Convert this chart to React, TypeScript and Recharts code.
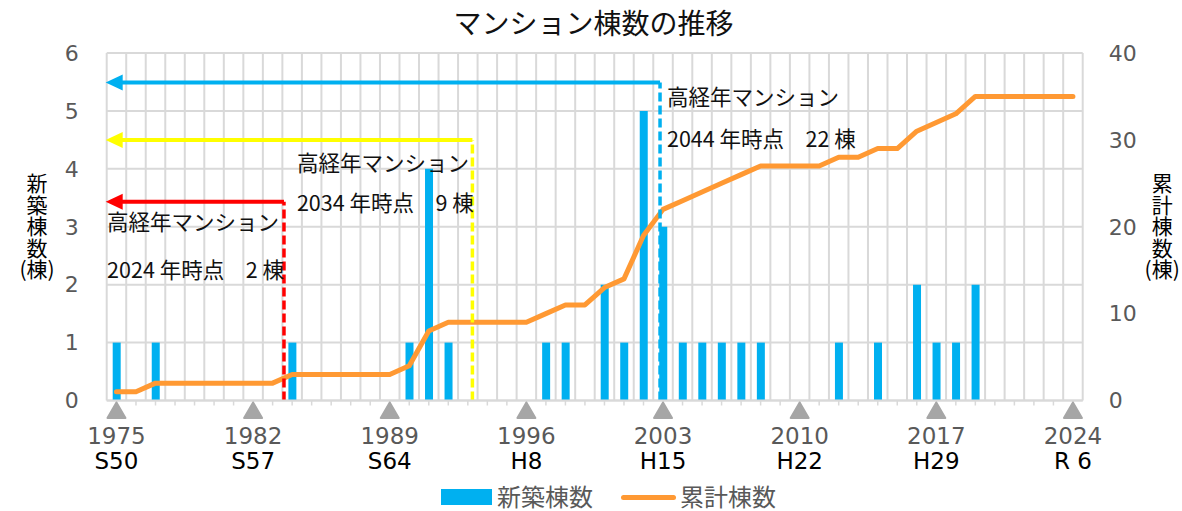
import React from "react";
import {
  ComposedChart,
  Bar,
  Line,
  XAxis,
  YAxis,
  CartesianGrid,
  ReferenceLine,
  ReferenceDot,
} from "recharts";

const YEARS = [
  "1975", "1976", "1977", "1978", "1979", "1980", "1981", "1982", "1983", "1984",
  "1985", "1986", "1987", "1988", "1989", "1990", "1991", "1992", "1993", "1994",
  "1995", "1996", "1997", "1998", "1999", "2000", "2001", "2002", "2003", "2004",
  "2005", "2006", "2007", "2008", "2009", "2010", "2011", "2012", "2013", "2014",
  "2015", "2016", "2017", "2018", "2019", "2020", "2021", "2022", "2023", "2024",
];

// 新築棟数
const NEW_BUILDINGS = [
  1, 0, 1, 0, 0, 0, 0, 0, 0, 1,
  0, 0, 0, 0, 0, 1, 4, 1, 0, 0,
  0, 0, 1, 1, 0, 2, 1, 5, 3, 1,
  1, 1, 1, 1, 0, 0, 0, 1, 0, 1,
  0, 2, 1, 1, 2, 0, 0, 0, 0, 0,
];

// 累計棟数
const CUMULATIVE = [
  1, 1, 2, 2, 2, 2, 2, 2, 2, 3,
  3, 3, 3, 3, 3, 4, 8, 9, 9, 9,
  9, 9, 10, 11, 11, 13, 14, 19, 22, 23,
  24, 25, 26, 27, 27, 27, 27, 28, 28, 29,
  29, 31, 32, 33, 35, 35, 35, 35, 35, 35,
];

const LABELED_YEARS = ["1975", "1982", "1989", "1996", "2003", "2010", "2017", "2024"];
const ERAS = ["S50", "S57", "S64", "H8", "H15", "H22", "H29", "R 6"];

const LEFT_TICKS = [0, 1, 2, 3, 4, 5, 6];
const RIGHT_TICKS = [0, 10, 20, 30, 40];

// 高経年マンション annotations (x on a 0..49 scale across the plot, y on the left axis)
const NOTE_COLORS = ["#ff0000", "#ffff00", "#00b0f0"];
const NOTE_YEARS = ["2024", "2034", "2044"];
const NOTE_COUNTS = ["2", "9", "22"];
const NOTE_CUTOFF_X = [8.9, 18.36, 27.78];
const NOTE_ARROW_Y = [3.43, 4.5, 5.49];
const NOTE_TEXT_X = [0.02, 9.55, 28.13];
const NOTE_LINE1_Y = [3.08, 4.1, 5.24];
const NOTE_LINE2_Y = [2.25, 3.41, 4.51];

const data = YEARS.map((year, i) => ({
  year,
  newCount: NEW_BUILDINGS[i],
  total: CUMULATIVE[i],
}));

const GRID = "#d9d9d9";
const AXIS_TEXT = "#595959";
const JP = "'Noto Sans CJK JP', 'Noto Sans', sans-serif";
const NUM = "'DejaVu Sans', Verdana, sans-serif";

function YearTick(props: any) {
  const { x, y, payload } = props;
  const i = LABELED_YEARS.indexOf(payload.value);
  if (i < 0) return <g />;
  return (
    <g>
      <polygon
        points={`${x},${y - 3} ${x - 9},${y + 12.5} ${x + 9},${y + 12.5}`}
        fill="#a6a6a6"
        stroke="#a6a6a6"
        strokeWidth={2}
        strokeLinejoin="round"
      />
      <text x={x} y={y + 38.5} textAnchor="middle" fill={AXIS_TEXT} fontSize={23} fontFamily={NUM}>
        {payload.value}
      </text>
      <text x={x} y={y + 63} textAnchor="middle" fill="#000" fontSize={23} fontFamily={NUM}>
        {ERAS[i]}
      </text>
    </g>
  );
}

const stackedTitle = (chars: string[], dx: number) => (props: any) => {
  const vb = props.viewBox;
  const mid = vb.y + vb.height / 2;
  return (
    <text fontSize={21} fontFamily={JP} fill="#000" textAnchor="middle">
      {chars.map((c, i) => (
        <tspan key={i} x={vb.x + dx} y={mid + (i - 2) * 21.5} dy="0.36em">
          {c}
        </tspan>
      ))}
    </text>
  );
};

const arrowShape = (color: string) => (props: any) => {
  const { x1, y1, x2 } = props;
  const left = Math.min(x1, x2);
  const right = Math.max(x1, x2);
  return (
    <g>
      <line x1={left + 12} y1={y1} x2={right} y2={y1} stroke={color} strokeWidth={4} />
      <polygon points={`${left - 1},${y1} ${left + 16},${y1 - 8} ${left + 16},${y1 + 8}`} fill={color} />
    </g>
  );
};

const noteText = (text: string) => (props: any) => (
  <text
    x={props.cx}
    y={props.cy}
    dy="0.36em"
    fontSize={21.5}
    fontFamily={JP}
    fill="#111"
  >
    {text}
  </text>
);

export default function App() {
  return (
    <div style={{ position: "absolute", left: 0, top: 0, width: 1182, height: 511, background: "#fff" }}>
      <div
        style={{
          position: "absolute",
          top: 8,
          left: 0,
          width: 1187,
          textAlign: "center",
          fontFamily: JP,
          fontSize: 28,
          lineHeight: "28px",
          color: "#111",
        }}
      >
        マンション棟数の推移
      </div>

      <ComposedChart
        width={1182}
        height={511}
        data={data}
        margin={{ top: 53, right: 0, bottom: 30.5, left: 0 }}
        barCategoryGap={0}
      >
        <CartesianGrid
          xAxisId="cat"
          yAxisId="left"
          stroke={GRID}
          strokeWidth={2}
          verticalCoordinatesGenerator={({ offset }: any) =>
            YEARS.concat([""]).map((_, i) => offset.left + (i * offset.width) / YEARS.length)
          }
        />
        <XAxis
          xAxisId="cat"
          dataKey="year"
          interval={0}
          height={80}
          tick={<YearTick />}
          tickSize={5}
          tickMargin={0}
          tickLine={{ stroke: GRID, strokeWidth: 1.5 }}
          axisLine={{ stroke: GRID, strokeWidth: 2 }}
        />
        <XAxis xAxisId="num" type="number" domain={[0, 49]} allowDataOverflow hide />
        <YAxis
          yAxisId="left"
          domain={[0, 6]}
          ticks={LEFT_TICKS}
          width={106.7}
          axisLine={false}
          tickLine={false}
          tickSize={6}
          tickMargin={22}
          tick={{ fill: AXIS_TEXT, fontSize: 22, fontFamily: NUM }}
          label={{ content: stackedTitle(["新", "築", "棟", "数", "(棟)"], 37) }}
        />
        <YAxis
          yAxisId="right"
          orientation="right"
          domain={[0, 40]}
          ticks={RIGHT_TICKS}
          width={99.3}
          axisLine={false}
          tickLine={false}
          tickSize={6}
          tickMargin={20}
          tick={{ fill: AXIS_TEXT, fontSize: 22, fontFamily: NUM }}
          label={{ content: stackedTitle(["累", "計", "棟", "数", "(棟)"], 79.5) }}
        />
        <Bar
          xAxisId="cat"
          yAxisId="left"
          dataKey="newCount"
          name="新築棟数"
          fill="#00b0f0"
          barSize={8}
          isAnimationActive={false}
        />
        <Line
          xAxisId="cat"
          yAxisId="right"
          dataKey="total"
          name="累計棟数"
          type="linear"
          stroke="#ff9933"
          strokeWidth={5}
          strokeLinejoin="round"
          strokeLinecap="round"
          dot={false}
          activeDot={false}
          isAnimationActive={false}
        />
        {NOTE_COLORS.map((color, i) => (
          <ReferenceLine
            key={`v${i}`}
            xAxisId="num"
            yAxisId="left"
            segment={[
              { x: NOTE_CUTOFF_X[i], y: 0 },
              { x: NOTE_CUTOFF_X[i], y: NOTE_ARROW_Y[i] },
            ]}
            stroke={color}
            strokeWidth={3.5}
            strokeDasharray="9 4"
          />
        ))}
        {NOTE_COLORS.map((color, i) => (
          <ReferenceLine
            key={`h${i}`}
            xAxisId="num"
            yAxisId="left"
            segment={[
              { x: 0, y: NOTE_ARROW_Y[i] },
              { x: NOTE_CUTOFF_X[i], y: NOTE_ARROW_Y[i] },
            ]}
            shape={arrowShape(color)}
          />
        ))}
        {NOTE_YEARS.map((yr, i) => (
          <ReferenceDot
            key={`t1${i}`}
            xAxisId="num"
            yAxisId="left"
            x={NOTE_TEXT_X[i]}
            y={NOTE_LINE1_Y[i]}
            r={0}
            shape={noteText("高経年マンション")}
          />
        ))}
        {NOTE_YEARS.map((yr, i) => (
          <ReferenceDot
            key={`t2${i}`}
            xAxisId="num"
            yAxisId="left"
            x={NOTE_TEXT_X[i]}
            y={NOTE_LINE2_Y[i]}
            r={0}
            shape={noteText(`${yr} 年時点\u3000${NOTE_COUNTS[i]} 棟`)}
          />
        ))}
      </ComposedChart>

      <div style={{ position: "absolute", left: 441, top: 489, width: 51, height: 16, background: "#00b0f0" }} />
      <div
        style={{
          position: "absolute",
          left: 497,
          top: 481,
          fontFamily: JP,
          fontSize: 24,
          lineHeight: "30px",
          color: AXIS_TEXT,
        }}
      >
        新築棟数
      </div>
      <div
        style={{
          position: "absolute",
          left: 621,
          top: 494.5,
          width: 55,
          height: 5,
          borderRadius: 3,
          background: "#ff9933",
        }}
      />
      <div
        style={{
          position: "absolute",
          left: 680,
          top: 481,
          fontFamily: JP,
          fontSize: 24,
          lineHeight: "30px",
          color: AXIS_TEXT,
        }}
      >
        累計棟数
      </div>
    </div>
  );
}
